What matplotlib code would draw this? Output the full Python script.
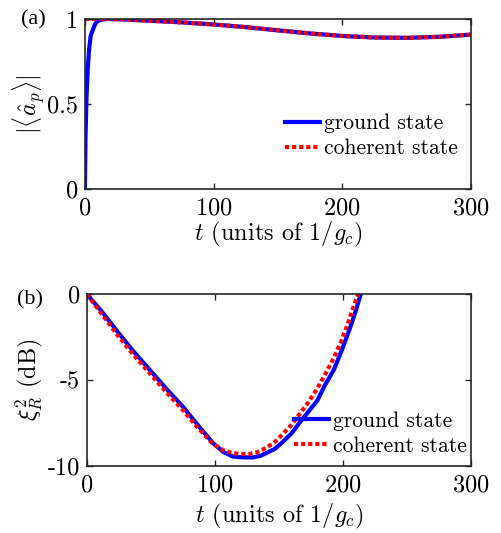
import numpy as np
from matplotlib import pyplot as plt

plt.rcParams['font.family'] = ['cmr10', 'DejaVu Serif']
plt.rcParams['mathtext.fontset'] = 'cm'
plt.rcParams['axes.unicode_minus'] = False
plt.rcParams['axes.formatter.use_mathtext'] = True
plt.rcParams['font.size'] = 17.5

# panel (a): |<a_p>| versus t
t_a_ground = [0, 0.5, 1.3, 2.2, 3.3, 4.5, 6.4, 8, 10, 13, 18, 30, 50, 75, 100, 125, 150, 175, 200, 225, 250, 275, 300]
a_ground = [0, 0.3, 0.54, 0.7, 0.82, 0.9, 0.94, 0.97, 0.988, 0.996, 1.0, 0.997, 0.99, 0.98, 0.968, 0.952, 0.933, 0.915, 0.9, 0.891, 0.889, 0.895, 0.908]
t_a_coh = [0, 5, 10, 18, 30, 50, 75, 100, 125, 150, 175, 200, 225, 250, 275, 300]
a_coh = [1.0, 1.0, 1.0, 1.0, 0.997, 0.99, 0.98, 0.968, 0.952, 0.933, 0.915, 0.9, 0.891, 0.889, 0.895, 0.908]

# panel (b): squeezing xi_R^2 in dB
t_b_ground = [0, 12, 23, 36, 49, 62, 75, 87, 99, 107, 114, 122, 130, 136, 140, 147, 153, 160, 166, 173, 180, 186, 193, 199, 205, 210, 214]
b_ground = [0, -1.05, -2.1, -3.3, -4.4, -5.5, -6.55, -7.65, -8.7, -9.2, -9.45, -9.5, -9.5, -9.4, -9.25, -9.0, -8.6, -8.1, -7.5, -6.85, -6.2, -5.3, -4.4, -3.3, -2.1, -1.0, 0]
t_b_coh = [0, 12, 23, 36, 49, 62, 75, 87, 99, 107, 114, 120, 127, 133, 140, 147, 153, 160, 166, 173, 180, 186, 193, 199, 204, 208, 212]
b_coh = [0, -1.2, -2.3, -3.5, -4.6, -5.7, -6.75, -7.8, -8.75, -9.1, -9.25, -9.3, -9.3, -9.2, -8.95, -8.6, -8.15, -7.6, -7.0, -6.3, -5.5, -4.7, -3.7, -2.7, -1.7, -0.8, 0]

fig = plt.figure(figsize=(5.02, 5.33), dpi=100)
ax1 = fig.add_axes([0.169, 0.6454, 0.769, 0.319])
ax2 = fig.add_axes([0.173, 0.1257, 0.765, 0.3227])

dots = (0, (1, 0.7))
for ax in (ax1, ax2):
    ax.tick_params(direction='in', top=True, right=True, length=4, width=1, colors='#262626', labelcolor='black')
    ax.tick_params(axis='x', pad=6)
    ax.tick_params(axis='y', pad=5)
    for s in ax.spines.values():
        s.set_linewidth(1.2)
        s.set_color('#262626')
    ax.set_xlim(0, 300)
    ax.set_xticks([0, 100, 200, 300])

ax1.plot(t_a_ground, a_ground, color='blue', lw=3, label='ground state')
ax1.plot(t_a_coh, a_coh, color='red', lw=3, ls=dots, label='coherent state')
ax1.set_ylim(0, 1)
ax1.set_yticks([0, 0.5, 1])
ax1.set_yticklabels(['0', '0.5', '1'])
ax1.set_ylabel(r'$|\langle \hat{a}_p \rangle|$', labelpad=0)
ax1.set_xlabel(r'$t$ (units of $1/g_c$)', labelpad=0)
ax1.legend(loc='center left', bbox_to_anchor=(0.518, 0.312), frameon=False, fontsize=15.5,
           handlelength=1.63, handletextpad=0.2, labelspacing=0.25, borderpad=0, borderaxespad=0)

ax2.plot(t_b_ground, b_ground, color='blue', lw=3, label='ground state')
ax2.plot(t_b_coh, b_coh, color='red', lw=3, ls=dots, label='coherent state')
ax2.set_ylim(-10, 0)
ax2.set_yticks([-10, -5, 0])
ax2.set_yticklabels(['-10', '-5', '0'])
ax2.set_ylabel(r'$\xi_R^2$ (dB)', labelpad=2)
ax2.set_xlabel(r'$t$ (units of $1/g_c$)', labelpad=4)
ax2.legend(loc='center left', bbox_to_anchor=(0.539, 0.189), frameon=False, fontsize=15.5,
           handlelength=1.63, handletextpad=0.2, labelspacing=0.25, borderpad=0, borderaxespad=0)

fig.text(0.042, 1 - 20 / 533, '(a)', ha='left', va='center', fontsize=16, family='Liberation Serif')
fig.text(0.034, 1 - 300 / 533, '(b)', ha='left', va='center', fontsize=16, family='Liberation Serif')

fig.savefig('out.png', dpi=100)
